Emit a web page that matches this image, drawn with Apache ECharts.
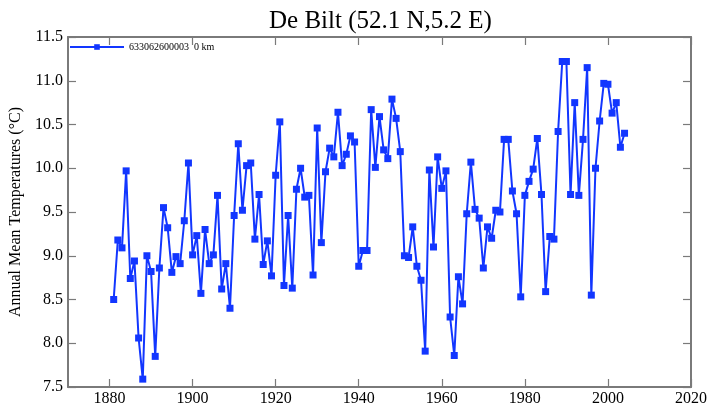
<!DOCTYPE html>
<html>
<head>
<meta charset="utf-8">
<script src="https://cdn.jsdelivr.net/npm/echarts@6/dist/echarts.min.js"></script>
<style>
  html, body { margin: 0; padding: 0; background: #fff; }
  #chart { width: 710px; height: 408px; }
</style>
</head>
<body>
<div id="chart"></div>
<script>
// Annual mean temperatures at De Bilt, station 633062600003
const firstYear = 1881;
const temps = [
  8.50, 9.18, 9.09, 9.97, 8.74, 8.94, 8.06, 7.59, 9.00, 8.82,
  7.85, 8.86, 9.55, 9.32, 8.81, 8.99, 8.91, 9.40, 10.06, 9.01,
  9.23, 8.57, 9.30, 8.91, 9.01, 9.69, 8.62, 8.91, 8.40, 9.46,
  10.28, 9.52, 10.03, 10.06, 9.19, 9.70, 8.90, 9.17, 8.77, 9.92,
  10.53, 8.66, 9.46, 8.63, 9.76, 10.00, 9.67, 9.69, 8.78, 10.46,
  9.15, 9.96, 10.23, 10.13, 10.64, 10.03, 10.16, 10.37, 10.30, 8.88,
  9.06, 9.06, 10.67, 10.01, 10.59, 10.21, 10.11, 10.79, 10.57, 10.19,
  9.00, 8.98, 9.33, 8.88, 8.72, 7.91, 9.98, 9.10, 10.13, 9.77,
  9.97, 8.30, 7.86, 8.76, 8.45, 9.48, 10.07, 9.53, 9.43, 8.86,
  9.33, 9.20, 9.52, 9.50, 10.33, 10.33, 9.74, 9.48, 8.53, 9.69,
  9.85, 9.99, 10.34, 9.70, 8.59, 9.22, 9.19, 10.42, 11.22, 11.22,
  9.70, 10.75, 9.69, 10.33, 11.15, 8.55, 10.00, 10.54, 10.97, 10.96,
  10.63, 10.75, 10.24, 10.40
];
const years = temps.map((_, i) => firstYear + i);
const xTicks = [1880, 1900, 1920, 1940, 1960, 1980, 2000, 2020];
const xRange = [1870, 2020];
const yRange = [7.5, 11.5];
const yStep = 0.5;
const seriesName = '633062600003  0 km';
const titleText = 'De Bilt (52.1 N,5.2 E)';
const yName = 'Annual Mean Temperatures (\u00B0C)';

const serif = '"Liberation Serif", "DejaVu Serif", serif';
const axisGray = '#7a7a7a';
const blue = '#1236ff';

const chart = echarts.init(document.getElementById('chart'), null, { renderer: 'canvas' });

const frameLine = { show: true, onZero: false, lineStyle: { color: axisGray, width: 2 } };
const tickStyle = { inside: true, length: 8, lineStyle: { color: axisGray, width: 1.2 } };

chart.setOption({
  animation: false,
  backgroundColor: '#ffffff',
  title: {
    text: titleText,
    left: 264,
    top: 4,
    textStyle: { fontFamily: serif, fontSize: 25, fontWeight: 'normal', color: '#000' }
  },
  legend: {
    data: [seriesName],
    left: 64,
    top: 37,
    itemWidth: 54,
    itemHeight: 7,
    textStyle: { fontFamily: serif, fontSize: 10, color: '#000' }
  },
  grid: { left: 62, right: 19, top: 37, bottom: 21, containLabel: false },
  xAxis: [
    {
      type: 'value',
      min: xRange[0],
      max: xRange[1],
      axisLine: frameLine,
      splitLine: { show: false },
      axisTick: Object.assign({ customValues: xTicks }, tickStyle),
      axisLabel: {
        customValues: xTicks,
        margin: 4,
        fontFamily: serif,
        fontSize: 16,
        color: '#000',
        formatter: v => String(v)
      }
    },
    {
      type: 'value',
      position: 'top',
      min: xRange[0],
      max: xRange[1],
      axisLine: frameLine,
      splitLine: { show: false },
      axisTick: Object.assign({ customValues: xTicks }, tickStyle),
      axisLabel: { show: false }
    }
  ],
  yAxis: [
    {
      type: 'value',
      min: yRange[0],
      max: yRange[1],
      interval: yStep,
      name: yName,
      nameLocation: 'middle',
      nameGap: 44,
      nameRotate: 90,
      nameTextStyle: { fontFamily: serif, fontSize: 16, color: '#000' },
      axisLine: frameLine,
      splitLine: { show: false },
      axisTick: tickStyle,
      axisLabel: {
        margin: 5,
        fontFamily: serif,
        fontSize: 16,
        color: '#000',
        formatter: v => v.toFixed(1)
      }
    },
    {
      type: 'value',
      position: 'right',
      min: yRange[0],
      max: yRange[1],
      interval: yStep,
      axisLine: frameLine,
      splitLine: { show: false },
      axisTick: tickStyle,
      axisLabel: { show: false }
    }
  ],
  series: [
    {
      name: seriesName,
      type: 'line',
      xAxisIndex: 0,
      yAxisIndex: 0,
      data: years.map((yr, i) => [yr, temps[i]]),
      symbol: 'rect',
      symbolSize: 7,
      showAllSymbol: true,
      lineStyle: { color: blue, width: 2 },
      itemStyle: { color: blue, borderWidth: 0 }
    }
  ]
});
</script>
</body>
</html>
